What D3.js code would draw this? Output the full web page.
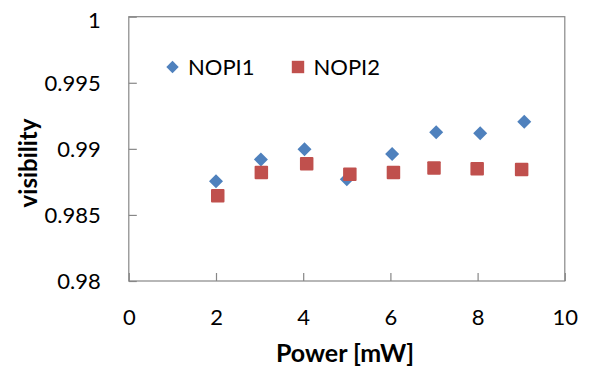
<!DOCTYPE html>
<html>
<head>
<meta charset="utf-8">
<script src="https://cdn.jsdelivr.net/npm/d3@7"></script>
<style>
  html, body { margin: 0; padding: 0; background: #fff; }
  svg { display: block; }
  text { font-family: Lato, "Open Sans", sans-serif; fill: #000; }
</style>
</head>
<body>
<svg id="chart" width="592" height="369"></svg>
<script>
// ---- data ----
const xTicks = [0, 2, 4, 6, 8, 10];
const yTicks = [0.98, 0.985, 0.99, 0.995, 1];
const seriesNames = ["NOPI1", "NOPI2"];
const power1 = [2.0, 3.03, 4.03, 5.0, 6.04, 7.05, 8.06, 9.07];
const nopi1  = [0.98755, 0.98920, 0.98997, 0.98770, 0.98961, 0.99126, 0.99118, 0.99205];
const power2 = [2.04, 3.04, 4.08, 5.07, 6.07, 7.0, 7.99, 9.01];
const nopi2  = [0.98646, 0.98821, 0.98887, 0.98808, 0.98821, 0.98856, 0.98849, 0.98844];
const xTitle = "Power [mW]";
const yTitle = "visibility";

// ---- layout ----
const svg = d3.select("#chart");
const L = 128.8, R = 564.8, T = 16.7, B = 281;
const x = d3.scaleLinear().domain([0, 10]).range([L, R]);
const y = d3.scaleLinear().domain([0.98, 1]).range([B, T]);
const axisColor = "#878787";

// border
svg.append("rect")
  .attr("x", L).attr("y", T)
  .attr("width", R - L).attr("height", B - T)
  .attr("fill", "none").attr("stroke", axisColor).attr("stroke-width", 1.2);

// y axis
const gy = svg.append("g").attr("transform", `translate(${L},0)`)
  .call(d3.axisLeft(y).tickValues(yTicks).tickFormat(d => d3.format("")(+d.toFixed(3)))
    .tickSizeInner(-8).tickSizeOuter(0).tickPadding(28));
gy.select(".domain").remove();
gy.selectAll(".tick line").attr("stroke", axisColor).attr("stroke-width", 1.2);
gy.selectAll(".tick text").attr("font-size", 22).attr("font-family", "Lato, sans-serif")
  .attr("dy", d => d === 1 ? "0.5em" : "0.33em");

// x axis
const gx = svg.append("g").attr("transform", `translate(0,${B})`)
  .call(d3.axisBottom(x).tickValues(xTicks).tickFormat(d3.format("d"))
    .tickSizeInner(-8).tickSizeOuter(0).tickPadding(28));
gx.select(".domain").remove();
gx.selectAll(".tick line").attr("stroke", axisColor).attr("stroke-width", 1.2);
gx.selectAll(".tick text").attr("font-size", 22).attr("font-family", "Lato, sans-serif");

// titles
svg.append("text")
  .attr("x", 345).attr("y", 362)
  .attr("text-anchor", "middle")
  .attr("font-size", 25).attr("font-weight", "bold")
  .text(xTitle);
svg.append("text")
  .attr("transform", "translate(37,163) rotate(-90)")
  .attr("text-anchor", "middle")
  .attr("font-size", 24).attr("font-weight", "bold")
  .text(yTitle);

// markers
const colors = ["#4F81BD", "#C0504D"];
const s1 = power1.map((p, i) => ({ p, v: nopi1[i] }));
const s2 = power2.map((p, i) => ({ p, v: nopi2[i] }));

function drawDiamond(sel, cx, cy, r) {
  sel.append("path")
    .attr("d", `M${cx},${cy - r}L${cx + r},${cy}L${cx},${cy + r}L${cx - r},${cy}Z`)
    .attr("fill", colors[0]);
}
const sq = 13.5;

svg.append("g").selectAll("path").data(s1).join("path")
  .attr("d", d => {
    const cx = x(d.p), cy = y(d.v), r = 7;
    return `M${cx},${cy - r}L${cx + r},${cy}L${cx},${cy + r}L${cx - r},${cy}Z`;
  })
  .attr("fill", colors[0]);

svg.append("g").selectAll("rect").data(s2).join("rect")
  .attr("x", d => x(d.p) - sq / 2)
  .attr("y", d => y(d.v) - sq / 2)
  .attr("width", sq).attr("height", sq)
  .attr("rx", 1)
  .attr("fill", colors[1]);

// legend
const lg = svg.append("g");
const legendX = [172.5, 298];
const legendY = 67;
seriesNames.forEach((name, i) => {
  if (i === 0) {
    drawDiamond(lg, legendX[i], legendY, 6.2);
  } else {
    lg.append("rect")
      .attr("x", legendX[i] - 6.2).attr("y", legendY - 6.2)
      .attr("width", 12.4).attr("height", 12.4)
      .attr("fill", colors[1]);
  }
  lg.append("text")
    .attr("x", legendX[i] + 15.5).attr("y", legendY + 7.5)
    .attr("font-size", 22)
    .text(name);
});
</script>
</body>
</html>
